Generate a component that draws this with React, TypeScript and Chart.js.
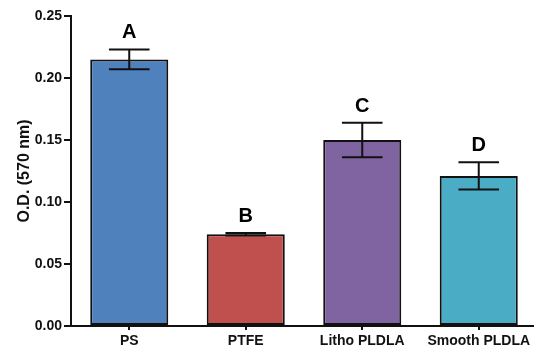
import React, { useEffect, useRef } from "react";
import { Chart, registerables } from "chart.js";

Chart.register(...registerables);

const categories = ["PS", "PTFE", "Litho PLDLA", "Smooth PLDLA"];
const means = [0.215, 0.074, 0.150, 0.121];
const errors = [0.008, 0.001, 0.014, 0.011];
const letters = ["A", "B", "C", "D"];
const colors = ["#4F81BD", "#C0504D", "#8064A2", "#4BACC6"];
const yTicks = [0, 0.05, 0.1, 0.15, 0.2, 0.25];

const FONT = "'Liberation Sans', Arial, sans-serif";

const errorPlugin = {
  id: "errorBarsLetters",
  afterDatasetsDraw(chart: any) {
    const ctx = chart.ctx;
    const meta = chart.getDatasetMeta(0);
    const y = chart.scales.y;
    ctx.save();
    ctx.strokeStyle = "#111";
    ctx.lineWidth = 2;
    meta.data.forEach((bar: any, i: number) => {
      const x = bar.x;
      const half = bar.width * 0.26;
      const yHi = y.getPixelForValue(means[i] + errors[i]);
      const yLo = y.getPixelForValue(means[i] - errors[i]);
      ctx.beginPath();
      ctx.moveTo(x, yHi);
      ctx.lineTo(x, yLo);
      ctx.moveTo(x - half, yHi);
      ctx.lineTo(x + half, yHi);
      ctx.moveTo(x - half, yLo);
      ctx.lineTo(x + half, yLo);
      ctx.stroke();
      ctx.fillStyle = "#000";
      ctx.font = `bold 20px ${FONT}`;
      ctx.textAlign = "center";
      ctx.textBaseline = "alphabetic";
      ctx.fillText(letters[i], x, yHi - 11);
    });
    ctx.restore();
  },
};

export default function App() {
  const ref = useRef<HTMLCanvasElement>(null);
  useEffect(() => {
    document.body.style.margin = "0";
    document.body.style.overflow = "hidden";
    const chart = new Chart(ref.current!, {
      type: "bar",
      data: {
        labels: categories,
        datasets: [
          {
            data: means,
            backgroundColor: colors,
            borderColor: "#111",
            borderWidth: 2,
            borderSkipped: false,
            barPercentage: 0.67,
            categoryPercentage: 1,
          },
        ],
      },
      options: {
        responsive: false,
        animation: false,
        layout: { padding: { top: 16, right: 0, left: 0, bottom: 0 } },
        plugins: { legend: { display: false }, tooltip: { enabled: false } },
        scales: {
          x: {
            grid: {
              display: true,
              drawOnChartArea: false,
              drawTicks: true,
              tickLength: 4,
              offset: false,
              color: "#111",
              lineWidth: 2,
            },
            border: { display: true, color: "#111", width: 2 },
            ticks: {
              color: "#111",
              font: { family: FONT, size: 14, weight: "bold" },
              padding: 3,
              maxRotation: 0,
              autoSkip: false,
            },
            afterFit(scale: any) {
              scale.height = 24;
            },
          },
          y: {
            min: 0,
            max: 0.25,
            afterBuildTicks(scale: any) {
              scale.ticks = yTicks.map((v) => ({ value: v }));
            },
            grid: {
              display: true,
              drawOnChartArea: false,
              drawTicks: true,
              tickLength: 7,
              color: "#111",
              lineWidth: 2,
            },
            border: { display: true, color: "#111", width: 2 },
            ticks: {
              color: "#111",
              font: { family: FONT, size: 14, weight: "bold" },
              padding: 2,
              callback: (v: any) => Number(v).toFixed(2),
            },
            title: {
              display: true,
              text: "O.D. (570 nm)",
              color: "#111",
              font: { family: FONT, size: 16, weight: "bold" },
              padding: { top: 15, bottom: 0 },
            },
            afterFit(scale: any) {
              scale.width = 71;
            },
          },
        },
      },
      plugins: [errorPlugin],
    });
    return () => chart.destroy();
  }, []);
  return (
    <div style={{ width: 534, height: 350, overflow: "hidden", background: "#fff" }}>
      <canvas ref={ref} width={537} height={350} />
    </div>
  );
}
